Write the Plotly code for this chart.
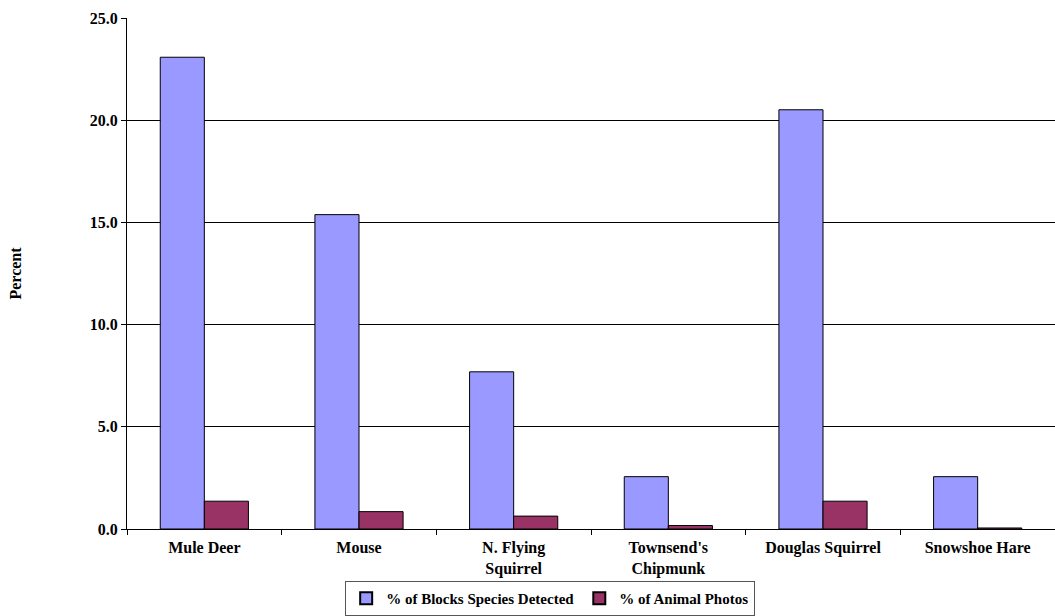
import plotly.graph_objects as go

categories = ["Mule Deer", "Mouse", "N. Flying<br>Squirrel", "Townsend's<br>Chipmunk", "Douglas Squirrel", "Snowshoe Hare"]
blocks_detected = [23.08, 15.38, 7.69, 2.56, 20.51, 2.56]
animal_photos = [1.36, 0.85, 0.63, 0.17, 1.36, 0.05]
y_ticks = [0, 5, 10, 15, 20, 25]
y_tick_labels = ["0.0", "5.0", "10.0", "15.0", "20.0", "25.0"]

font_family = "Liberation Serif, Times New Roman, serif"

fig = go.Figure()
fig.add_trace(go.Bar(x=categories, y=blocks_detected, name="% of Blocks Species Detected",
                     marker=dict(color="#9999FF", line=dict(color="black", width=1))))
fig.add_trace(go.Bar(x=categories, y=animal_photos, name="% of Animal Photos",
                     marker=dict(color="#993366", line=dict(color="black", width=1))))

fig.update_layout(
    width=1055, height=616,
    margin=dict(l=127, r=0, t=18, b=87, autoexpand=False),
    paper_bgcolor="white", plot_bgcolor="white",
    barmode="group", bargap=0.43, bargroupgap=0,
    font=dict(family=font_family, size=16, color="black"),
    showlegend=True,
    legend=dict(orientation="h", x=0.456, xanchor="center",
                yref="container", y=0.0568, yanchor="top",
                bordercolor="#555555", borderwidth=1,
                font=dict(size=15, family=font_family, weight="bold"),
                itemwidth=30, tracegroupgap=0, itemsizing="constant"),
    xaxis=dict(showgrid=False, showline=True, linecolor="black", linewidth=1,
               ticks="outside", tickson="boundaries", ticklen=5, tickcolor="black",
               ticklabelstandoff=4,
               tickfont=dict(size=16, family=font_family, weight="bold"), zeroline=False),
    yaxis=dict(range=[0, 25], tickvals=y_ticks, ticktext=y_tick_labels,
               showgrid=True, gridcolor="black", gridwidth=1,
               showline=True, linecolor="black", linewidth=1,
               ticks="outside", ticklen=5, tickcolor="black",
               tickfont=dict(size=16, family=font_family, weight="bold"), zeroline=False,
               title=dict(text="Percent", font=dict(size=16, family=font_family, weight="bold"),
                          standoff=64)),
)

fig.write_html("out.html", config={"displayModeBar": False},
               post_script="document.body.style.margin='0';document.body.style.padding='0';")
